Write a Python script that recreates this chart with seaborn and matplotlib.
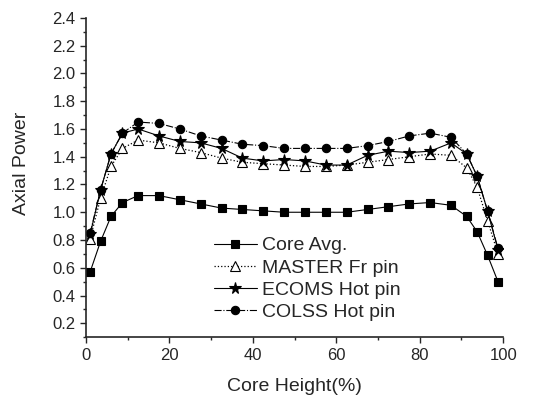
import pandas as pd
import matplotlib
matplotlib.use("Agg")
import matplotlib.pyplot as plt
import seaborn as sns
from matplotlib.ticker import MultipleLocator

# Core height positions (%)
core_height = [1, 3.5, 6, 8.75, 12.5, 17.5, 22.5, 27.5, 32.5, 37.5, 42.5, 47.5,
               52.5, 57.5, 62.5, 67.5, 72.5, 77.5, 82.5, 87.5, 91.25, 93.75, 96.25, 98.75]

core_avg = [0.57, 0.79, 0.97, 1.07, 1.12, 1.12, 1.09, 1.06, 1.03, 1.02, 1.01, 1.00,
            1.00, 1.00, 1.00, 1.02, 1.04, 1.06, 1.07, 1.05, 0.97, 0.86, 0.69, 0.50]
master_fr = [0.81, 1.10, 1.33, 1.46, 1.52, 1.50, 1.46, 1.43, 1.39, 1.36, 1.35, 1.34,
             1.33, 1.33, 1.34, 1.36, 1.38, 1.40, 1.42, 1.41, 1.32, 1.18, 0.94, 0.70]
ecoms_hot = [0.84, 1.16, 1.42, 1.57, 1.60, 1.55, 1.51, 1.50, 1.46, 1.39, 1.37, 1.38,
             1.37, 1.34, 1.34, 1.41, 1.44, 1.43, 1.44, 1.50, 1.42, 1.26, 1.01, 0.73]
colss_hot = [0.85, 1.16, 1.42, 1.57, 1.65, 1.64, 1.60, 1.55, 1.52, 1.49, 1.48, 1.46,
             1.46, 1.46, 1.46, 1.48, 1.51, 1.55, 1.57, 1.54, 1.42, 1.26, 1.01, 0.74]

series_names = ["Core Avg.", "MASTER Fr pin", "ECOMS Hot pin", "COLSS Hot pin"]

sns.set_style("ticks")
plt.rcParams["font.family"] = ["Liberation Sans", "DejaVu Sans"]

df = pd.DataFrame({
    "height": core_height * 4,
    "power": core_avg + master_fr + ecoms_hot + colss_hot,
    "series": sum([[n] * len(core_height) for n in series_names], []),
})

# line style / marker per series
styles = {
    "Core Avg.": dict(linestyle="-", marker="s", markersize=5.5, mfc="black", lw=0.8),
    "MASTER Fr pin": dict(linestyle=":", marker="^", markersize=6.5, mfc="white", lw=0.9),
    "ECOMS Hot pin": dict(linestyle="-", marker="*", markersize=8.5, mfc="black", lw=0.8),
    "COLSS Hot pin": dict(linestyle="-.", marker="o", markersize=6, mfc="black", lw=0.8),
}

fig = plt.figure(figsize=(5.44, 3.99), dpi=100)
ax = fig.add_axes([0.158, 0.155, 0.767, 0.80])

for name in series_names:
    st = styles[name]
    sub = df[df["series"] == name]
    sns.lineplot(data=sub, x="height", y="power", ax=ax, color="black",
                 label=name, linestyle=st["linestyle"], linewidth=st["lw"],
                 marker=st["marker"], markersize=st["markersize"],
                 markerfacecolor=st["mfc"], markeredgecolor="black",
                 markeredgewidth=0.8)

ax.set_xlim(0, 100)
ax.set_ylim(0.1, 2.4)
ax.xaxis.set_major_locator(MultipleLocator(20))
ax.xaxis.set_minor_locator(MultipleLocator(10))
ax.yaxis.set_minor_locator(MultipleLocator(0.1))
ax.set_yticks([0.2, 0.4, 0.6, 0.8, 1.0, 1.2, 1.4, 1.6, 1.8, 2.0, 2.2, 2.4])
ax.tick_params(axis="both", which="major", labelsize=12, length=4, width=1, direction="out")
ax.tick_params(axis="both", which="minor", length=2.5, width=1, direction="out")
ax.set_xlabel("Core Height(%)", fontsize=14, labelpad=11)
ax.set_ylabel("Axial Power", fontsize=14)
ax.yaxis.set_label_coords(-0.135, 0.545)
sns.despine(ax=ax)
for sp in ("left", "bottom"):
    ax.spines[sp].set_linewidth(1.2)

ax.legend(loc="upper left", bbox_to_anchor=(0.283, 0.345), frameon=False, fontsize=14,
          handlelength=2.2, handletextpad=0.3, labelspacing=0.24, borderpad=0)

fig.savefig("out.png", dpi=100)
